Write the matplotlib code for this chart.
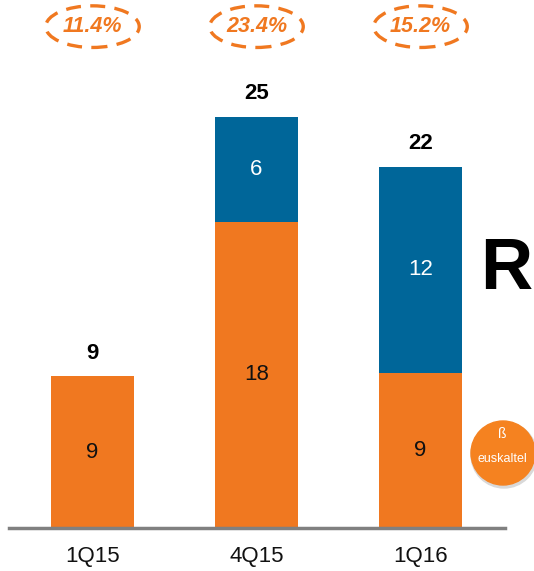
import matplotlib.pyplot as plt
from matplotlib.patches import Ellipse, Circle

plt.rcParams['font.family'] = ['Liberation Sans', 'DejaVu Sans']

quarters = ['1Q15', '4Q15', '1Q16']
euskaltel = [9.1, 18.4, 9.3]   # (labels are rounded)
r_values = [0, 6.3, 12.4]
shares = ['11.4%', '23.4%', '15.2%']
totals = [a + b for a, b in zip(euskaltel, r_values)]

orange = '#F07820'
blue = '#006699'

fig = plt.figure(figsize=(5.34, 5.71), dpi=100)
ax = fig.add_axes([9 / 534, 43 / 571, 496 / 534, 528 / 571])

x = range(len(quarters))
ax.bar(x, euskaltel, width=0.51, color=orange)
ax.bar(x, r_values, width=0.51, bottom=euskaltel, color=blue)

for i in x:
    ax.text(i, euskaltel[i] / 2, f'{euskaltel[i]:.0f}', ha='center', va='center',
            fontsize=16, color='#111111')
    if r_values[i]:
        ax.text(i, euskaltel[i] + r_values[i] / 2, f'{r_values[i]:.0f}', ha='center',
                va='center', fontsize=16, color='white')
    ax.text(i, totals[i] + 1.4, f'{totals[i]:.0f}', ha='center', va='center',
            fontsize=16, fontweight='bold', color='black')
    # dashed ellipse with market share on top
    ax.add_patch(Ellipse((i, 30.1), 0.57, 2.5, fill=False, edgecolor=orange,
                         linestyle=(0, (4.5, 2.8)), linewidth=2.4, clip_on=False))
    ax.text(i, 30.1, shares[i], ha='center', va='center', fontsize=15.5,
            fontweight='bold', style='italic', color=orange)

ax.set_xlim(-0.509, 2.515)
ax.set_ylim(0, 31.7)
ax.set_xticks(list(x))
ax.set_xticklabels(quarters, fontsize=16, color='#111111')
ax.tick_params(axis='x', length=0, pad=13)
ax.set_yticks([])
for side in ['top', 'right', 'left']:
    ax.spines[side].set_visible(False)
ax.spines['bottom'].set_color('#808080')
ax.spines['bottom'].set_linewidth(2.5)

# logos
fig.text(506 / 534, 1 - 270 / 571, 'R', ha='center', va='center', fontsize=52,
         fontweight='bold', color='black')
fig.patches.append(Circle((504 / 100, (571 - 455) / 100), 0.33, color='#d9d9d9',
                          transform=fig.dpi_scale_trans, zorder=4))
fig.patches.append(Circle((503 / 100, (571 - 453) / 100), 0.32, color='#F58220',
                          transform=fig.dpi_scale_trans, zorder=5))
fig.text(502 / 534, 1 - 459 / 571, 'euskaltel', ha='center', va='center',
         fontsize=9, color='white', zorder=6)
fig.text(502 / 534, 1 - 434 / 571, 'ß', ha='center', va='center',
         fontsize=10, color='white', zorder=6)

plt.savefig('out.png', dpi=100)
